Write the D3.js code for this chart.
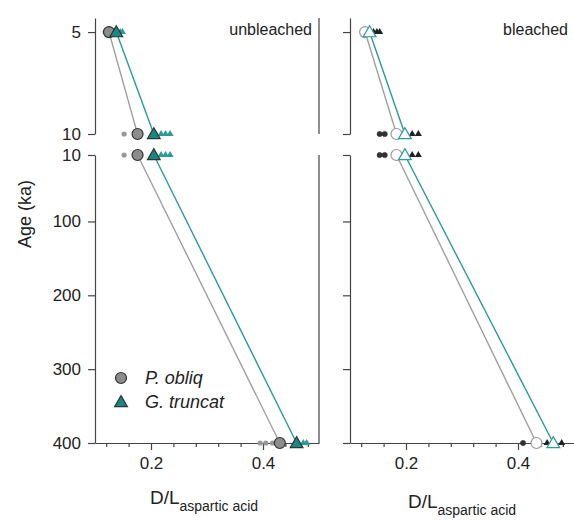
<!DOCTYPE html>
<html><head><meta charset="utf-8">
<script src="https://cdn.jsdelivr.net/npm/d3@7"></script>
<style>
html,body{margin:0;padding:0;background:#fff;}
svg{display:block;font-family:Arial,"Liberation Sans",sans-serif;}
</style></head>
<body>
<svg id="c" width="574" height="521"></svg>
<script>
// ---- data ----
const ages = [5, 10, 400];
const panels = ["unbleached", "bleached"];
const unbleachedObliqMean = [0.125, 0.176, 0.430];
const unbleachedTruncMean = [0.138, 0.205, 0.460];
const bleachedObliqMean   = [0.127, 0.183, 0.433];
const bleachedTruncMean   = [0.135, 0.198, 0.463];
// individual measurements [age, D/L]
const unbleachedObliqInd = [[5,0.118],[10,0.152],[400,0.395],[400,0.405],[400,0.417]];
const unbleachedTruncInd = [[5,0.145],[5,0.149],[10,0.218],[10,0.226],[10,0.234],[400,0.472],[400,0.478]];
const bleachedObliqInd   = [[10,0.153],[10,0.162],[400,0.409]];
const bleachedTruncInd   = [[5,0.142],[5,0.148],[5,0.153],[10,0.211],[10,0.222],[400,0.452],[400,0.478]];
const xTicks = [0.12,0.16,0.2,0.24,0.28,0.32,0.36,0.4,0.44,0.48];
const xLabelTicks = [0.2, 0.4];
const yTopTicks = [5, 10];
const yBotTicks = [10, 100, 200, 300, 400];
const legendLabels = ["P. obliq", "G. truncat"];

// ---- styles ----
const GREY_FILL = "#8c8c8c", GREY_LINE = "#a0a0a0", DARK = "#333";
const TEAL_FILL = "#148a84", TEAL_LINE = "#2a9c96";

const svg = d3.select("#c");
const yTop = d3.scaleLinear().domain([4.31, 10]).range([18, 134]);
const yBot = d3.scaleLinear().domain([10, 400]).range([155, 443]);
const xs = [
  d3.scaleLinear().domain([0.1, 0.5]).range([95, 319]),
  d3.scaleLinear().domain([0.1, 0.5]).range([350, 574])
];
const tri = d3.symbol().type(d3.symbolTriangle);

function styleAxis(g){
  g.selectAll("path.domain").attr("stroke", "#444").attr("stroke-width", 1.2);
  g.selectAll(".tick line").attr("stroke", "#444").attr("stroke-width", 1.2);
  g.selectAll("text").attr("fill", "#222").style("font-size", "17px").style("font-family","Arial, 'Liberation Sans', sans-serif");
}

panels.forEach((name, pi) => {
  const x = xs[pi];
  const [x0, x1] = x.range();
  // y axes
  const ga = svg.append("g").attr("transform", `translate(${x0},0)`)
    .call(d3.axisLeft(yTop).tickValues(yTopTicks).tickSize(7).tickSizeOuter(0).tickPadding(7)
      .tickFormat(pi === 0 ? d3.format("d") : () => ""));
  styleAxis(ga);
  const gb = svg.append("g").attr("transform", `translate(${x0},0)`)
    .call(d3.axisLeft(yBot).tickValues(yBotTicks).tickSize(7).tickSizeOuter(0).tickPadding(7)
      .tickFormat(pi === 0 ? d3.format("d") : () => ""));
  styleAxis(gb);
  // x axis
  const gx = svg.append("g").attr("transform", `translate(0,${yBot.range()[1]})`)
    .call(d3.axisBottom(x).tickValues(xTicks).tickSizeOuter(0).tickPadding(8)
      .tickFormat(d => xLabelTicks.some(v => Math.abs(v - d) < 1e-9) ? d3.format(".1f")(d) : ""));
  styleAxis(gx);
  gx.selectAll(".tick line").attr("y2", d => xLabelTicks.some(v => Math.abs(v - d) < 1e-9) ? 7 : 4);
  // right frame (only left panel shows it; right panel is cut at the image edge)
  if (pi === 0) {
    [yTop, yBot].forEach(ys => {
      svg.append("line").attr("x1", x1).attr("x2", x1)
        .attr("y1", ys.range()[0]).attr("y2", ys.range()[1])
        .attr("stroke", "#444").attr("stroke-width", 1.2);
    });
  }
  // panel title
  svg.append("text").attr("x", pi ? x1 - 6 : x1 - 7).attr("y", 35).attr("text-anchor", "end")
    .style("font-size", "16px").attr("fill", "#222").text(name);
  // x label
  const xl = svg.append("text").attr("x", (x0 + x1) / 2 + (pi ? 0 : -3)).attr("y", pi ? 508 : 504)
    .attr("text-anchor", "middle").attr("fill", "#222");
  xl.append("tspan").style("font-size", "19px").text("D/L");
  xl.append("tspan").style("font-size", "14px").attr("dy", 7).text("aspartic acid");

  const oMean = pi === 0 ? unbleachedObliqMean : bleachedObliqMean;
  const tMean = pi === 0 ? unbleachedTruncMean : bleachedTruncMean;
  const oInd = pi === 0 ? unbleachedObliqInd : bleachedObliqInd;
  const tInd = pi === 0 ? unbleachedTruncInd : bleachedTruncInd;

  const segs = [
    {ys: yTop, keep: a => a <= 10},
    {ys: yBot, keep: a => a >= 10}
  ];
  segs.forEach(seg => {
    const ys = seg.ys;
    const line = d3.line().x(d => x(d[1])).y(d => ys(d[0]));
    const oPts = ages.map((a, i) => [a, oMean[i]]).filter(d => seg.keep(d[0]));
    const tPts = ages.map((a, i) => [a, tMean[i]]).filter(d => seg.keep(d[0]));
    svg.append("path").attr("d", line(oPts)).attr("fill", "none").attr("stroke", GREY_LINE).attr("stroke-width", 1.4);
    svg.append("path").attr("d", line(tPts)).attr("fill", "none").attr("stroke", TEAL_LINE).attr("stroke-width", 1.4);
    // individual points
    oInd.filter(d => seg.keep(d[0])).forEach(d => {
      svg.append("circle").attr("cx", x(d[1])).attr("cy", ys(d[0])).attr("r", 2.6)
        .attr("fill", pi === 0 ? "#999" : "#333").attr("stroke", pi === 0 ? "none" : "#222").attr("stroke-width", 0.6);
    });
    tInd.filter(d => seg.keep(d[0])).forEach(d => {
      svg.append("path").attr("d", tri.size(22)()).attr("transform", `translate(${x(d[1])},${ys(d[0])})`)
        .attr("fill", pi === 0 ? TEAL_LINE : "#222");
    });
    // means
    oPts.forEach(d => {
      svg.append("circle").attr("cx", x(d[1])).attr("cy", ys(d[0])).attr("r", 5.5)
        .attr("fill", pi === 0 ? GREY_FILL : "#fff").attr("stroke", pi === 0 ? DARK : "#999").attr("stroke-width", 1.2);
    });
    tPts.forEach(d => {
      svg.append("path").attr("d", tri.size(70)()).attr("transform", `translate(${x(d[1])},${ys(d[0])+1})`)
        .attr("fill", pi === 0 ? TEAL_FILL : "#fff").attr("stroke", pi === 0 ? DARK : TEAL_LINE).attr("stroke-width", 1.2);
    });
  });
});

// y label
svg.append("text").attr("transform", "translate(31,214) rotate(-90)").attr("text-anchor", "middle")
  .style("font-size", "18px").attr("fill", "#222").text("Age (ka)");

// legend
const lg = svg.append("g");
lg.append("circle").attr("cx", 121).attr("cy", 378).attr("r", 5.5).attr("fill", GREY_FILL).attr("stroke", DARK).attr("stroke-width", 1.2);
lg.append("path").attr("d", tri.size(70)()).attr("transform", "translate(121,403)").attr("fill", TEAL_FILL).attr("stroke", DARK).attr("stroke-width", 1.2);
legendLabels.forEach((t, i) => {
  lg.append("text").attr("x", 145).attr("y", 384 + i * 24).style("font-size", "18px").style("font-style", "italic")
    .attr("fill", "#222").text(t);
});
</script>
</body></html>
